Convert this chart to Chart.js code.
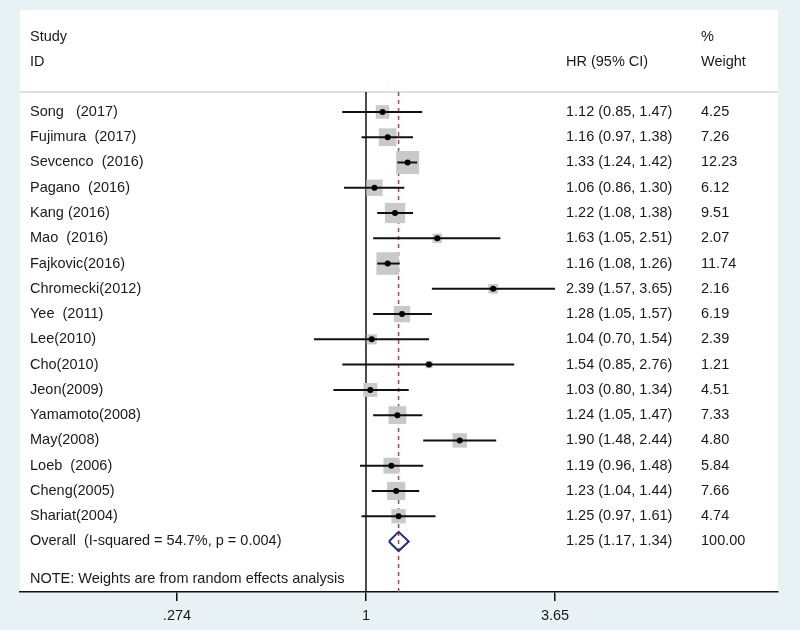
<!DOCTYPE html>
<html>
<head>
<meta charset="utf-8">
<title>Forest plot - HR</title>
<script src="https://cdn.jsdelivr.net/npm/chart.js@4.4.1/dist/chart.umd.min.js"></script>
<style>
  html, body { margin: 0; padding: 0; background: #e8f1f4; }
  #wrap { width: 800px; height: 630px; }
</style>
</head>
<body>
<div id="wrap"><canvas id="forestChart" width="800" height="630"></canvas></div>
<script>
// ============================================
// Data
// ============================================
const studies = [
    'Song   (2017)', 'Fujimura  (2017)', 'Sevcenco  (2016)', 'Pagano  (2016)',
    'Kang (2016)', 'Mao  (2016)', 'Fajkovic(2016)', 'Chromecki(2012)',
    'Yee  (2011)', 'Lee(2010)', 'Cho(2010)', 'Jeon(2009)', 'Yamamoto(2008)',
    'May(2008)', 'Loeb  (2006)', 'Cheng(2005)', 'Shariat(2004)'
];
const hr      = [1.12, 1.16, 1.33, 1.06, 1.22, 1.63, 1.16, 2.39, 1.28, 1.04, 1.54, 1.03, 1.24, 1.90, 1.19, 1.23, 1.25];
const ciLow   = [0.85, 0.97, 1.24, 0.86, 1.08, 1.05, 1.08, 1.57, 1.05, 0.70, 0.85, 0.80, 1.05, 1.48, 0.96, 1.04, 0.97];
const ciHigh  = [1.47, 1.38, 1.42, 1.30, 1.38, 2.51, 1.26, 3.65, 1.57, 1.54, 2.76, 1.34, 1.47, 2.44, 1.48, 1.44, 1.61];
const weights = [4.25, 7.26, 12.23, 6.12, 9.51, 2.07, 11.74, 2.16, 6.19, 2.39, 1.21, 4.51, 7.33, 4.80, 5.84, 7.66, 4.74];

const overallLabel = 'Overall  (I-squared = 54.7%, p = 0.004)';
const overallHR = 1.25;
const overallLow = 1.17;
const overallHigh = 1.34;
const overallWeight = 100.00;

const noteText = 'NOTE: Weights are from random effects analysis';

const tickValues = [0.274, 1, 3.65];
const tickLabels = ['.274', '1', '3.65'];

// ============================================
// Styles
// ============================================
const FONT = '"Liberation Sans", Arial, sans-serif';
const FONT_SIZE = 14.5;
const TEXT_COLOR = '#1a1a1a';
const PAGE_BG = '#e8f1f4';
const SQUARE_COLOR = '#c9c9c9';
const DIAMOND_COLOR = '#2b2c7d';
const REF_RED = '#b8433f';
const MAX_SIDE = 23;          // square side (px) for the largest weight
const DIAMOND_HALF = 0.38;    // diamond half-height in row units

const overallRow = studies.length;
const noteRow = overallRow + 1.5;
const maxWeight = Math.max.apply(null, weights);

// ============================================
// Helpers
// ============================================
function fmt2(v) {
    return v.toFixed(2);
}

function hrText(h, lo, hi) {
    return fmt2(h) + ' (' + fmt2(lo) + ', ' + fmt2(hi) + ')';
}

// ============================================
// Plugins
// ============================================
const panelPlugin = {
    id: 'panel',
    beforeDraw(chart) {
        const ctx = chart.ctx;
        const area = chart.chartArea;
        ctx.save();
        ctx.fillStyle = PAGE_BG;
        ctx.fillRect(0, 0, chart.width, chart.height);
        ctx.fillStyle = '#ffffff';
        ctx.fillRect(area.left, 10, area.right - area.left, area.bottom - 10);
        ctx.restore();
    }
};

const refLinesPlugin = {
    id: 'refLines',
    beforeDatasetsDraw(chart) {
        const ctx = chart.ctx;
        const area = chart.chartArea;
        const xs = chart.scales.x;
        ctx.save();
        // header separator
        ctx.strokeStyle = '#d2d4d6';
        ctx.lineWidth = 1.5;
        ctx.beginPath();
        ctx.moveTo(area.left, area.top);
        ctx.lineTo(area.right, area.top);
        ctx.stroke();
        // line of no effect
        const x1 = xs.getPixelForValue(1);
        ctx.strokeStyle = '#111111';
        ctx.lineWidth = 1.5;
        ctx.beginPath();
        ctx.moveTo(x1, area.top);
        ctx.lineTo(x1, area.bottom);
        ctx.stroke();
        // overall estimate
        const xo = xs.getPixelForValue(overallHR);
        ctx.strokeStyle = REF_RED;
        ctx.setLineDash([4, 4]);
        ctx.beginPath();
        ctx.moveTo(xo, area.top);
        ctx.lineTo(xo, area.bottom);
        ctx.stroke();
        ctx.restore();
    }
};

const textPlugin = {
    id: 'columns',
    afterDraw(chart) {
        const ctx = chart.ctx;
        const ys = chart.scales.y;
        const colName = 30, colHR = 566, colW = 701;
        ctx.save();
        ctx.font = FONT_SIZE + 'px ' + FONT;
        ctx.fillStyle = TEXT_COLOR;
        ctx.textBaseline = 'middle';
        ctx.textAlign = 'left';

        // header
        ctx.fillText('Study', colName, 37);
        ctx.fillText('ID', colName, 62);
        ctx.fillText('HR (95% CI)', colHR, 62);
        ctx.fillText('%', colW, 37);
        ctx.fillText('Weight', colW, 62);

        studies.forEach(function(name, i) {
            const y = ys.getPixelForValue(i);
            ctx.fillText(name, colName, y);
            ctx.fillText(hrText(hr[i], ciLow[i], ciHigh[i]), colHR, y);
            ctx.fillText(fmt2(weights[i]), colW, y);
        });

        const yo = ys.getPixelForValue(overallRow);
        ctx.fillText(overallLabel, colName, yo);
        ctx.fillText(hrText(overallHR, overallLow, overallHigh), colHR, yo);
        ctx.fillText(fmt2(overallWeight), colW, yo);

        ctx.fillText(noteText, colName, ys.getPixelForValue(noteRow));
        ctx.restore();
    }
};

// ============================================
// Datasets
// ============================================
const squareData = studies.map((s, i) => ({ x: hr[i], y: i }));
const squareRadius = weights.map(w => MAX_SIDE * Math.sqrt(w / maxWeight) / Math.SQRT2);

const ciDatasets = studies.map((s, i) => ({
    type: 'scatter',
    showLine: true,
    data: [{ x: ciLow[i], y: i }, { x: ciHigh[i], y: i }],
    borderColor: '#111111',
    borderWidth: 2,
    pointRadius: 0,
    order: 2
}));

const diamondData = [
    { x: overallLow, y: overallRow },
    { x: overallHR, y: overallRow - DIAMOND_HALF },
    { x: overallHigh, y: overallRow },
    { x: overallHR, y: overallRow + DIAMOND_HALF },
    { x: overallLow, y: overallRow }
];

// ============================================
// Chart
// ============================================
new Chart(document.getElementById('forestChart').getContext('2d'), {
    type: 'scatter',
    data: {
        datasets: [
            {
                data: squareData,
                pointStyle: 'rect',
                pointRadius: squareRadius,
                backgroundColor: SQUARE_COLOR,
                borderWidth: 0,
                order: 3
            }
        ].concat(ciDatasets).concat([
            {
                data: squareData,
                pointStyle: 'circle',
                pointRadius: 3,
                backgroundColor: '#000000',
                borderWidth: 0,
                order: 1
            },
            {
                showLine: true,
                data: diamondData,
                borderColor: DIAMOND_COLOR,
                borderWidth: 2,
                pointRadius: 0,
                tension: 0,
                order: 1
            }
        ])
    },
    options: {
        responsive: false,
        animation: false,
        events: [],
        layout: { padding: { left: 20, right: 22, top: 92, bottom: 0 } },
        plugins: {
            legend: { display: false },
            tooltip: { enabled: false }
        },
        scales: {
            x: {
                type: 'logarithmic',
                min: 0.0935,
                max: 16.81,
                afterBuildTicks: function(scale) {
                    scale.ticks = tickValues.map(v => ({ value: v }));
                },
                afterFit: function(scale) {
                    scale.height = 38;
                },
                ticks: {
                    autoSkip: false,
                    maxRotation: 0,
                    padding: 6,
                    color: TEXT_COLOR,
                    font: { family: FONT, size: FONT_SIZE },
                    callback: function(value) {
                        const idx = tickValues.indexOf(value);
                        return idx >= 0 ? tickLabels[idx] : '';
                    }
                },
                grid: {
                    drawOnChartArea: false,
                    drawTicks: true,
                    tickLength: 9,
                    color: '#111111',
                    lineWidth: 1.5
                },
                border: { display: true, color: '#111111', width: 1.5 }
            },
            y: {
                type: 'linear',
                display: false,
                reverse: true,
                min: -0.79,
                max: 19
            }
        }
    },
    plugins: [panelPlugin, refLinesPlugin, textPlugin]
});
</script>
</body>
</html>
